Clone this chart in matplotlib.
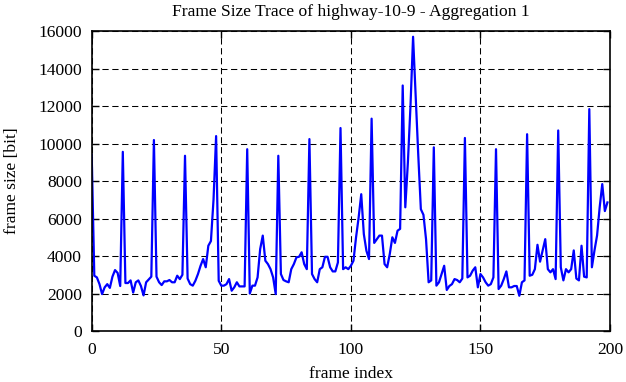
import matplotlib
matplotlib.use("Agg")
import matplotlib.pyplot as plt

# frame sizes (bit), frames 0..199
frame_index = list(range(200))
frame_size = [
    9400, 2950, 2860, 2500, 1970, 2330, 2500, 2300, 2900, 3250,
    3100, 2400, 9560, 2560, 2560, 2700, 2050, 2600, 2700, 2400,
    1900, 2600, 2750, 2900, 10190, 2900, 2600, 2450, 2650, 2650,
    2720, 2600, 2600, 2950, 2770, 3000, 9350, 2800, 2500, 2420,
    2680, 3040, 3480, 3840, 3400, 4550, 4800, 7000, 10400, 2680,
    2420, 2420, 2500, 2770, 2150, 2330, 2600, 2380, 2380, 2380,
    9700, 2000, 2420, 2420, 2860, 4370, 5090, 3750, 3570, 3300,
    2860, 1970, 9350, 3040, 2720, 2650, 2600, 3300, 3570, 3930,
    3960, 4200, 3570, 3300, 10240, 3040, 2770, 2600, 3300, 3400,
    3960, 3960, 3400, 3180, 3180, 3660, 10830, 3300, 3400, 3300,
    3480, 3750, 5000, 6060, 7300, 5170, 4280, 3840, 11330, 4700,
    4900, 5090, 5090, 3570, 3400, 4100, 5000, 4700, 5350, 5450,
    13100, 6600, 9000, 12000, 15700, 12500, 9400, 6500, 6200, 4900,
    2600, 2700, 9800, 2420, 2600, 3040, 3480, 2190, 2400, 2500,
    2770, 2720, 2600, 2800, 10300, 2860, 2950, 3220, 3400, 2330,
    3040, 2860, 2600, 2420, 2500, 2860, 9700, 2240, 2420, 2770,
    3180, 2330, 2330, 2400, 2400, 1880, 2600, 2700, 10500, 2950,
    3000, 3300, 4600, 3700, 4300, 4900, 3300, 3130, 3300, 2770,
    10700, 3400, 2700, 3300, 3130, 3300, 4300, 2800, 2700, 4550,
    2900, 2860, 11840, 3400, 4300, 5100, 6600, 7840, 6400, 6860,
]

x_ticks = [0, 50, 100, 150, 200]
y_ticks = list(range(0, 16001, 2000))

plt.rcParams['font.family'] = ['Liberation Serif', 'DejaVu Serif']
plt.rcParams['font.size'] = 12.6

fig = plt.figure(figsize=(6.26, 3.82), dpi=100)
ax = fig.add_axes([0.1465, 0.1335, 0.828, 0.785])

ax.plot(frame_index, frame_size, color='#0000ff', linewidth=1.6)

ax.set_xlim(0, 200)
ax.set_ylim(0, 16000)
ax.set_xticks(x_ticks)
ax.set_yticks(y_ticks)
ax.grid(True, color='black', linewidth=0.75, linestyle=(0, (6, 3.5)))
ax.set_axisbelow(True)
ax.tick_params(direction='in', top=True, right=True, length=5, width=1,
               labelsize=12.6)
ax.tick_params(axis='x', pad=8)
ax.tick_params(axis='y', pad=7)
for s in ax.spines.values():
    s.set_linewidth(1.2)

ax.set_title('Frame Size Trace of highway-10-9 - Aggregation 1', fontsize=12.6, pad=11)
ax.set_xlabel('frame index', labelpad=6)
ax.set_ylabel('frame size [bit]', labelpad=13)

fig.savefig('out.png', dpi=100)
